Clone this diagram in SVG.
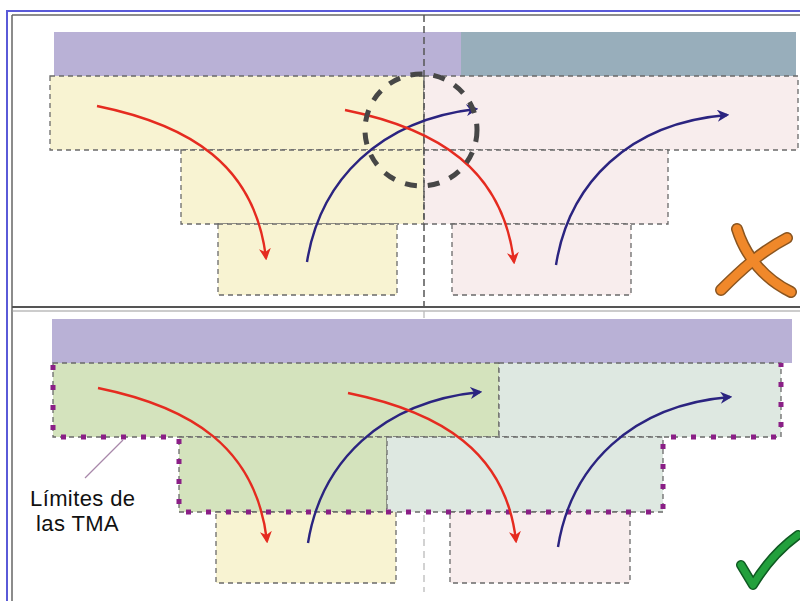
<svg xmlns="http://www.w3.org/2000/svg" width="800" height="601" viewBox="0 0 800 601">
<style>
.zone{stroke:#6a6a6a;stroke-width:1.3;stroke-dasharray:5 4}
.yel{fill:#f8f3d2}
.pnk{fill:#f8eded}
.grn{fill:#d4e3bd}
.tea{fill:#dee8e1}
.red{fill:none;stroke:#e52b20;stroke-width:2.4;marker-end:url(#ar)}
.blu{fill:none;stroke:#2b2480;stroke-width:2.4;marker-end:url(#ab)}
.tma{fill:none;stroke:#8a1f86;stroke-width:5;stroke-dasharray:5 15}
.lbl{font-family:"Liberation Sans",Arial,sans-serif;font-size:22px;fill:#111}
</style>
<defs>
<marker id="ar" viewBox="0 0 10 10" refX="8" refY="5" markerWidth="5" markerHeight="5" orient="auto" markerUnits="strokeWidth">
<path d="M0,0 L10,5 L0,10 L3,5 Z" fill="#e52b20"/>
</marker>
<marker id="ab" viewBox="0 0 10 10" refX="8" refY="5" markerWidth="5" markerHeight="5" orient="auto" markerUnits="strokeWidth">
<path d="M0,0 L10,5 L0,10 L3,5 Z" fill="#2b2480"/>
</marker>
</defs>
<rect x="0" y="0" width="800" height="601" fill="#ffffff"/>

<g id="frame">
<line x1="6" y1="11" x2="800" y2="11" stroke="#5a5ad8" stroke-width="2"/>
<line x1="7" y1="11" x2="7" y2="601" stroke="#5a5ad8" stroke-width="2"/>
<line x1="12" y1="15" x2="800" y2="15" stroke="#666" stroke-width="1.5"/>
<line x1="12" y1="15" x2="12" y2="601" stroke="#666" stroke-width="1.5"/>
<line x1="12" y1="307" x2="800" y2="307" stroke="#555" stroke-width="2"/>
<line x1="12" y1="311" x2="800" y2="311" stroke="#999" stroke-width="1.2"/>
</g>

<g id="top-panel">
<g id="top-bars">
<rect x="54" y="32" width="407" height="44" fill="#b9b1d6"/>
<rect x="461" y="32" width="335" height="45" fill="#98aebb"/>
</g>
<g id="top-zone-left">
<rect class="zone yel" x="50" y="76" width="374" height="74"/>
<rect class="zone yel" x="181" y="150" width="243" height="74"/>
<rect class="zone yel" x="218" y="224" width="179" height="71"/>
</g>
<g id="top-zone-right">
<rect class="zone pnk" x="424" y="76" width="374" height="74"/>
<rect class="zone pnk" x="424" y="150" width="244" height="74"/>
<rect class="zone pnk" x="452" y="224" width="179" height="71"/>
</g>
<line x1="424" y1="15" x2="424" y2="307" stroke="#555" stroke-width="1.5" stroke-dasharray="7 4"/>
<g id="top-arrows">
<path class="red" d="M97,106 C190,125 255,165 266,258"/>
<path class="blu" d="M307,262 C320,180 380,120 476,109"/>
<path class="red" d="M345,110 C438,129 503,169 514,262"/>
<path class="blu" d="M556,265 C569,183 629,123 727,115"/>
</g>
<circle id="conflict" cx="421" cy="130" r="56" fill="none" stroke="#474747" stroke-width="5" stroke-dasharray="12 11"/>
<g id="cross">
<path d="M737,229 C746,258 766,280 791,292" fill="none" stroke="#8a5520" stroke-width="12" stroke-linecap="round"/>
<path d="M787,238 C760,252 739,272 721,290" fill="none" stroke="#8a5520" stroke-width="12" stroke-linecap="round"/>
<path d="M737,229 C746,258 766,280 791,292" fill="none" stroke="#f0882a" stroke-width="9" stroke-linecap="round"/>
<path d="M787,238 C760,252 739,272 721,290" fill="none" stroke="#f0882a" stroke-width="9" stroke-linecap="round"/>
</g>
</g>

<g id="bottom-panel">
<line x1="424" y1="311" x2="424" y2="592" stroke="#bbb" stroke-width="1.3" stroke-dasharray="7 5"/>
<rect id="bottom-bar" x="52" y="319" width="740" height="44" fill="#b9b1d6"/>
<g id="bottom-zone-left">
<rect class="zone grn" x="53" y="363" width="446" height="74"/>
<rect class="zone grn" x="179" y="437" width="208" height="75"/>
<rect class="zone yel" x="216" y="512" width="180" height="71"/>
</g>
<g id="bottom-zone-right">
<rect class="zone tea" x="499" y="363" width="282" height="74"/>
<rect class="zone tea" x="387" y="437" width="276" height="75"/>
<rect class="zone pnk" x="450" y="512" width="180" height="71"/>
</g>
<g id="tma-limits">
<polyline class="tma" points="53,365 53,437 179,437 179,512 663,512 663,437 781,437 781,363"/>
</g>
<g id="bottom-arrows">
<path class="red" d="M98,388 C191,407 256,447 267,541"/>
<path class="blu" d="M308,543 C321,462 381,402 480,392"/>
<path class="red" d="M348,393 C441,412 506,452 516,541"/>
<path class="blu" d="M558,547 C571,466 631,405 730,397"/>
</g>
<g id="label">
<line x1="85" y1="478" x2="123" y2="440" stroke="#a888aa" stroke-width="1.3"/>
<text class="lbl" x="30" y="506" letter-spacing="0.4">Límites de</text>
<text class="lbl" x="36" y="531" letter-spacing="0.4">las TMA</text>
</g>
<g id="check">
<path d="M741,565 L753,585 C765,565 780,548 798,535" fill="none" stroke="#0f5a22" stroke-width="10" stroke-linecap="round" stroke-linejoin="round"/>
<path d="M741,565 L753,585 C765,565 780,548 798,535" fill="none" stroke="#22a03c" stroke-width="7" stroke-linecap="round" stroke-linejoin="round"/>
</g>
</g>
</svg>
